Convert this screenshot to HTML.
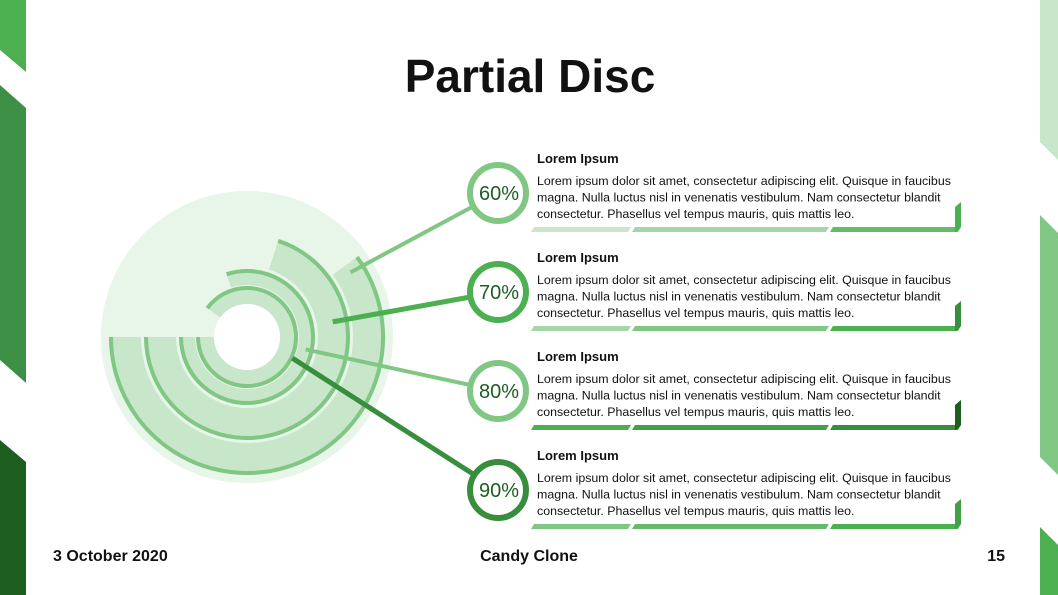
<!DOCTYPE html>
<html><head><meta charset="utf-8"><style>
body{margin:0;background:#fff;}
svg{display:block;font-family:"Liberation Sans",sans-serif;}
</style></head><body>
<svg id="s" width="1058" height="595" viewBox="0 0 1058 595">
<g>
<polygon points="0,0 26,0 26,72 0,50" fill="#4caf50"/>
<polygon points="0,85 26,108 26,383 0,360" fill="#3d8f45"/>
<polygon points="0,440 26,462 26,595 0,595" fill="#1e5e20"/>
<polygon points="1040,0 1058,0 1058,160 1040,142" fill="#c8e6c9"/>
<polygon points="1040,215 1058,233 1058,475 1040,457" fill="#81c784"/>
<polygon points="1040,527 1058,545 1058,595 1040,595" fill="#4caf50"/>
</g>
<text x="530" y="92" text-anchor="middle" font-size="46" font-weight="bold" fill="#111">Partial Disc</text>
<circle cx="247" cy="337" r="146" fill="#e8f5e9"/>
<g id="disc"></g>
<circle cx="247" cy="337" r="33" fill="#fff"/>
<g id="rows"></g>
<text x="53" y="561" font-size="16" font-weight="bold" fill="#111">3 October 2020</text>
<text x="529" y="561" text-anchor="middle" font-size="16" font-weight="bold" fill="#111">Candy Clone</text>
<text x="1005" y="561" text-anchor="end" font-size="16" font-weight="bold" fill="#111">15</text>
</svg>
<script>
const percents=[60,70,80,90];
const labels=["60%","70%","80%","90%"];
const titles=["Lorem Ipsum","Lorem Ipsum","Lorem Ipsum","Lorem Ipsum"];
const NS="http://www.w3.org/2000/svg";
const cx=247,cy=337;
const ringR=[[106,138],[71,103],[52,68],[33,51]];
const circleCol=["#81c784","#4caf50","#81c784","#388e3c"];
const lineCol=["#81c784","#4caf50","#81c784","#388e3c"];
const lineW=[4,5,4,5];
const barCols=[["#c8e6c9","#a5d6a7","#66bb6a","#4caf50"],["#a5d6a7","#81c784","#4caf50","#388e3c"],["#4caf50","#43a047","#388e3c","#1b5e20"],["#81c784","#66bb6a","#4caf50","#43a047"]];
function mk(t,a,p){const e=document.createElementNS(NS,t);for(const k in a)e.setAttribute(k,a[k]);p.appendChild(e);return e;}
function pt(r,deg){const a=deg*Math.PI/180;return [cx+r*Math.cos(a),cy+r*Math.sin(a)];}
function sectorPath(r0,r1,p){const sweep=p/100*360;const a0=180,a1=180-sweep;
const large=sweep>180?1:0;
const A=pt(r1,a0),B=pt(r1,a1),C=pt(r0,a1),D=pt(r0,a0);
return `M${A} A${r1},${r1} 0 ${large} 0 ${B} L${C} A${r0},${r0} 0 ${large} 1 ${D}Z`;}
function arcPath(r,p){const sweep=p/100*360;const A=pt(r,180),B=pt(r,180-sweep);return `M${A} A${r},${r} 0 ${sweep>180?1:0} 0 ${B}`;}
const disc=document.getElementById('disc');
const rows=document.getElementById('rows');
const rowY=[193,292,391,490];
percents.forEach((p,i)=>{
 const [r0,r1]=ringR[i];
 const s=mk('path',{d:sectorPath(r0,r1,p),fill:'#c8e6c9'},disc);
 
 
 const a=mk('path',{d:arcPath(r1-2,p),fill:'none',stroke:'#81c784','stroke-width':4},disc);
 
 
});
percents.forEach((p,i)=>{
 const y=rowY[i];
 const [r0,r1]=ringR[i];
 const endDeg=180-p/100*360;
 const mid=pt((r0+r1)/2-(i==3?-8:0),i==0?endDeg+4:(i==1?-10:(i==2?12:25)));
 const ln=mk('line',{x1:mid[0],y1:mid[1],x2:498,y2:y,stroke:lineCol[i],'stroke-width':lineW[i]},rows);
 
 
 const c=mk('circle',{cx:498,cy:y,r:28,fill:'#fff',stroke:circleCol[i],'stroke-width':6},rows);
 
 
 const t=mk('text',{x:499,y:y+7,'text-anchor':'middle','font-size':20,fill:'#1b5e20'},rows);t.textContent=labels[i];
 
 
 const ty=y-35;
 const h=mk('text',{x:537,y:ty+5,'font-size':13,'font-weight':'bold',fill:'#111'},rows);h.textContent=titles[i];
 
 
 const lines=["Lorem ipsum dolor sit amet, consectetur adipiscing elit. Quisque in faucibus","magna. Nulla luctus nisl in venenatis vestibulum. Nam consectetur blandit","consectetur.   Phasellus vel tempus mauris, quis mattis leo."];
 lines.forEach((L,k)=>{const b=mk('text',{x:537,y:ty+27+k*16.5,'font-size':12.4,fill:'#111','xml:space':'preserve'},rows);b.textContent=L;
 
 });
 const by=y+34;
 const segs=[[531,628],[632,826],[830,958]];
 segs.forEach((sg,k)=>{const q=mk('polygon',{points:`${sg[0]+3},${by} ${sg[1]+3},${by} ${sg[1]},${by+5} ${sg[0]},${by+5}`,fill:barCols[i][k]},rows);
 
 });
 const tab=mk('polygon',{points:`955,${by-20} 961,${by-25} 961,${by} 956,${by+5} 955,${by+5}`,fill:barCols[i][3]},rows);
 
 
});
</script>
</body></html>
